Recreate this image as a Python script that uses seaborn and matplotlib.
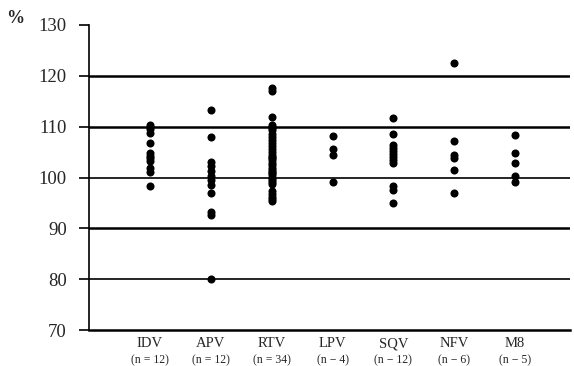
import matplotlib
matplotlib.use("Agg")
import matplotlib.pyplot as plt
import matplotlib.transforms as mtransforms
import seaborn as sns
import pandas as pd

drugs = ["IDV", "APV", "RTV", "LPV", "SQV", "NFV", "M8"]
n_labels = ["(n = 12)", "(n = 12)", "(n = 34)", "(n \u2212 4)", "(n \u2212 12)", "(n \u2212 6)", "(n \u2212 5)"]

idv = [110.4, 110.0, 109.6, 108.8, 106.8, 104.9, 104.3, 103.8, 103.2, 101.9, 101.0, 98.4]
apv = [113.3, 107.9, 103.0, 102.2, 101.2, 100.3, 99.5, 98.6, 97.0, 93.2, 92.7, 80.0]
rtv = [117.6, 117.1, 111.8, 110.3, 110.0, 109.8, 109.3, 108.6, 108.0, 107.4, 106.8,
       106.2, 105.6, 105.0, 104.4, 104.0, 103.9, 103.4, 102.9, 102.4, 101.9, 101.4,
       101.0, 100.9, 100.4, 100.0, 99.6, 99.2, 98.8, 97.3, 96.8, 96.2, 95.7, 95.3]
lpv = [108.1, 105.6, 104.4, 99.2]
sqv = [111.6, 108.6, 106.4, 105.8, 105.2, 104.6, 104.0, 103.4, 102.9, 98.3, 97.5, 94.9]
nfv = [122.6, 107.1, 104.4, 103.8, 101.4, 96.9]
m8 = [108.4, 104.9, 102.8, 100.2, 99.2]

values = [idv, apv, rtv, lpv, sqv, nfv, m8]
df = pd.DataFrame({
    "drug": [d for d, v in zip(drugs, values) for _ in v],
    "pct": [x for v in values for x in v],
})

sns.set_style("white")
plt.rcParams["font.family"] = ["Liberation Serif", "DejaVu Serif"]

fig = plt.figure(figsize=(5.74, 3.66), dpi=100)
ax = fig.add_axes([0.155, 0.098, 0.838, 0.834])

sns.stripplot(data=df, x="drug", y="pct", order=drugs, jitter=False,
              color="black", size=5.8, linewidth=0, ax=ax, zorder=3)

ax.set_ylim(70, 130)
ax.set_xlim(-1, 6.9)
ax.set_yticks([70, 80, 90, 100, 110, 120, 130])
for v, lw in [(120, 1.8), (110, 1.8), (100, 1.2), (90, 1.8), (80, 1.2)]:
    ax.axhline(v, color="black", lw=lw, zorder=1)

for s in ["top", "right"]:
    ax.spines[s].set_visible(False)
ax.spines["left"].set_color("black")
ax.spines["bottom"].set_color("black")
ax.spines["left"].set_linewidth(1.2)
ax.spines["bottom"].set_linewidth(1.8)

ax.tick_params(axis="y", direction="out", length=7, width=1.2, color="black",
               labelsize=13.5, pad=9, left=True)
ax.tick_params(axis="x", length=0, labelsize=10.5, pad=5)
ax.set_xlabel("")
ax.set_ylabel("")

trans = mtransforms.blended_transform_factory(ax.transData, ax.transAxes)
for i, t in enumerate(n_labels):
    ax.text(i, -0.1, t, transform=trans, ha="center", va="center", fontsize=8.5)

fig.text(0.027, 0.95, "%", fontsize=13, fontweight="bold", ha="center", va="center")

fig.savefig("out.png", dpi=100)
